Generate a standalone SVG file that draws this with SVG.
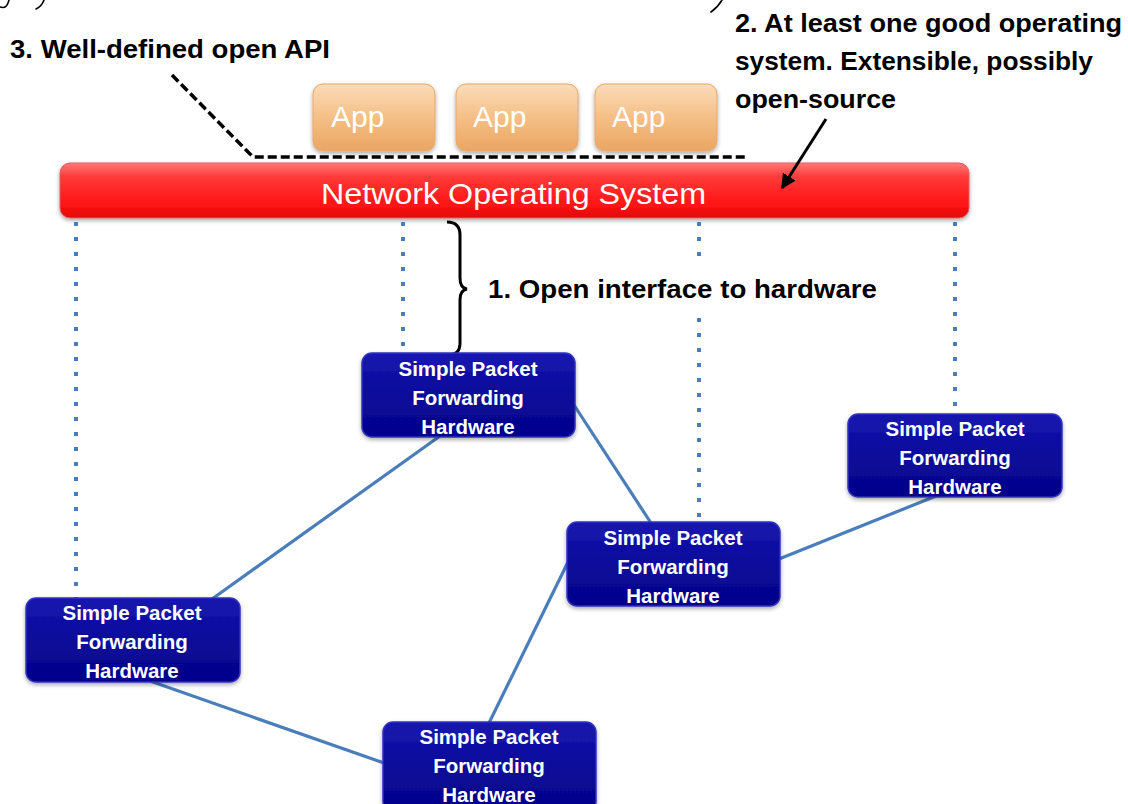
<svg xmlns="http://www.w3.org/2000/svg" width="1128" height="804" viewBox="0 0 1128 804">
  <defs>
    <linearGradient id="gNode" x1="0" y1="0" x2="0" y2="1">
      <stop offset="0" stop-color="#1818b0"/>
      <stop offset="0.45" stop-color="#0b0b9c"/>
      <stop offset="1" stop-color="#03038a"/>
    </linearGradient>
    <linearGradient id="gApp" x1="0" y1="0" x2="0" y2="1">
      <stop offset="0" stop-color="#fbdcb8"/>
      <stop offset="0.5" stop-color="#f5bf86"/>
      <stop offset="1" stop-color="#eba562"/>
    </linearGradient>
    <linearGradient id="gNos" x1="0" y1="0" x2="0" y2="1">
      <stop offset="0" stop-color="#ff7a7a"/>
      <stop offset="0.25" stop-color="#ff3a3a"/>
      <stop offset="0.75" stop-color="#ff1414"/>
      <stop offset="1" stop-color="#e00a0a"/>
    </linearGradient>
    <filter id="sh" x="-10%" y="-10%" width="120%" height="130%">
      <feDropShadow dx="0" dy="2" stdDeviation="2" flood-color="#000" flood-opacity="0.35"/>
    </filter>
    <marker id="arr" viewBox="0 0 10 10" refX="9" refY="5" markerWidth="5" markerHeight="5" orient="auto-start-reverse">
      <path d="M0,0 L10,5 L0,10 z" fill="#000"/>
    </marker>
  </defs>
  <style>
    .hw rect { fill: url(#gNode); stroke: #3030c0; stroke-width: 1.5; filter: url(#sh); }
    .hw text { fill: #fff; font-family: "Liberation Sans", Arial, sans-serif; font-weight: bold; font-size: 20.5px; text-anchor: middle; }
    .app rect { fill: url(#gApp); stroke: #e8a868; stroke-width: 1; filter: url(#sh); }
    .app text { fill: #fff; font-family: "Liberation Sans", Arial, sans-serif; font-size: 30px; }
    .lbl { fill: #000; font-family: "Liberation Sans", Arial, sans-serif; font-weight: bold; font-size: 25px; }
    .link { stroke: #4a7ebb; stroke-width: 3.2; fill: none; }
    .dot { stroke: #4a7ebb; stroke-width: 4; stroke-dasharray: 4 11; fill: none; }
    .frag { fill: none; stroke: #000; stroke-width: 1.6; stroke-linecap: round; }
  </style>

  <!-- cropped stroke fragments along top edge -->
  <g id="top-fragments">
    <path class="frag" d="M0,7 Q6,9 8,3 L9,0"/>
    <path class="frag" d="M36,9 Q42,6 44,0"/>
    <path class="frag" d="M711,12 Q718,7 722,0"/>
  </g>

  <!-- apps -->
  <g id="app1" class="app"><rect x="313" y="84" width="122" height="67" rx="10"/><text x="331" y="127">App</text></g>
  <g id="app2" class="app"><rect x="456" y="84" width="122" height="67" rx="10"/><text x="473" y="127">App</text></g>
  <g id="app3" class="app"><rect x="595" y="84" width="122" height="67" rx="10"/><text x="612" y="127">App</text></g>

  <!-- network OS bar -->
  <g id="nos">
    <rect x="60" y="163" width="909" height="55" rx="10" fill="url(#gNos)" stroke="#e06060" stroke-width="1" filter="url(#sh)"/>
    <text x="321" y="204" textLength="385" lengthAdjust="spacingAndGlyphs" fill="#fff" font-family="Liberation Sans, Arial, sans-serif" font-size="29">Network Operating  System</text>
  </g>

  <!-- annotations -->
  <g id="label-api">
    <text class="lbl" x="10" y="58" textLength="320" lengthAdjust="spacingAndGlyphs">3. Well-defined open API</text>
    <polyline points="172,75 253,157 745,157" fill="none" stroke="#000" stroke-width="3.5" stroke-dasharray="9 4"/>
  </g>
  <g id="label-os">
    <text class="lbl" x="735" y="32" textLength="387" lengthAdjust="spacingAndGlyphs">2. At least one good operating</text>
    <text class="lbl" x="735" y="70" textLength="358" lengthAdjust="spacingAndGlyphs">system. Extensible, possibly</text>
    <text class="lbl" x="735" y="108" textLength="161" lengthAdjust="spacingAndGlyphs">open-source</text>
    <line x1="826" y1="119" x2="782" y2="188" stroke="#000" stroke-width="3" marker-end="url(#arr)"/>
  </g>

  <!-- connectors -->
  <g id="connectors">
    <path class="dot" d="M76,222 V598"/>
    <path class="dot" d="M403,222 V352"/>
    <path class="dot" d="M699,222 V258 M699,318 V522"/>
    <path class="dot" d="M955,222 V414"/>
    <line class="link" x1="440" y1="436" x2="212" y2="599"/>
    <line class="link" x1="574" y1="405" x2="651" y2="523"/>
    <line class="link" x1="779" y1="559" x2="936" y2="496"/>
    <line class="link" x1="568" y1="562" x2="489" y2="723"/>
    <line class="link" x1="150" y1="681" x2="384" y2="763"/>
  </g>

  <!-- interface brace -->
  <g id="label-iface">
    <path d="M447,222 Q460,222 460,235 V278 Q460,288 467,289 Q460,290 460,300 V343 Q460,355 448,355" fill="none" stroke="#000" stroke-width="3"/>
    <text class="lbl" x="488" y="298" textLength="389" lengthAdjust="spacingAndGlyphs">1. Open interface to hardware</text>
  </g>

  <!-- hardware nodes -->
  <g id="hw1" class="hw">
    <rect x="362" y="353" width="213" height="84" rx="10"/>
    <text x="468" y="376">Simple Packet</text><text x="468" y="405">Forwarding</text><text x="468" y="434">Hardware</text>
  </g>
  <g id="hw2" class="hw">
    <rect x="848" y="414" width="214" height="83" rx="10"/>
    <text x="955" y="436">Simple Packet</text><text x="955" y="465">Forwarding</text><text x="955" y="494">Hardware</text>
  </g>
  <g id="hw3" class="hw">
    <rect x="567" y="522" width="213" height="84" rx="10"/>
    <text x="673" y="545">Simple Packet</text><text x="673" y="574">Forwarding</text><text x="673" y="603">Hardware</text>
  </g>
  <g id="hw4" class="hw">
    <rect x="26" y="598" width="214" height="84" rx="10"/>
    <text x="132" y="620">Simple Packet</text><text x="132" y="649">Forwarding</text><text x="132" y="678">Hardware</text>
  </g>
  <g id="hw5" class="hw">
    <rect x="383" y="722" width="213" height="90" rx="10"/>
    <text x="489" y="744">Simple Packet</text><text x="489" y="773">Forwarding</text><text x="489" y="802">Hardware</text>
  </g>
</svg>
